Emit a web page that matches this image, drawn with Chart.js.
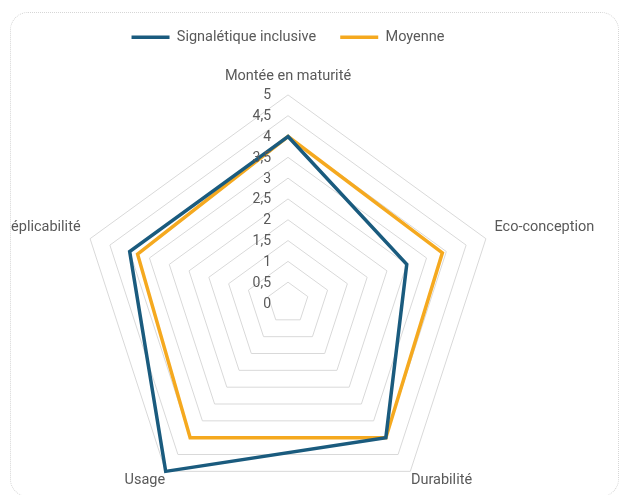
<!DOCTYPE html>
<html>
<head>
<meta charset="utf-8">
<script src="https://cdn.jsdelivr.net/npm/chart.js@4.4.1/dist/chart.umd.min.js"></script>
<style>
  html, body { margin: 0; padding: 0; background: #fff; overflow: hidden; }
  body { width: 619px; height: 495px; position: relative; }
  #frame {
    position: absolute; left: 10px; top: 12px; width: 609px; height: 485px;
    border: 1px dotted #d6d6d6; border-radius: 18px; box-sizing: border-box;
  }
  /* the source picture is cropped on the left, so the first letter of the left label is cut */
  #wrap { position: absolute; left: -100px; top: 0; width: 776px; height: 527px; clip-path: inset(0 0 0 111px); }
</style>
</head>
<body>
<div id="frame"></div>
<div id="wrap"><canvas id="c1"></canvas></div>
<script>
var categories = ['Montée en maturité', 'Eco-conception', 'Durabilité', 'Usage', 'Réplicabilité'];
var signaletique = [4, 3, 4, 5, 4];
var moyenne = [4, 3.9, 4, 4, 3.8];
var tickMin = 0, tickMax = 5, tickStep = 0.5;

// tick labels sit left of the vertical axis, like Excel does it
var leftTicks = {
    id: 'leftTicks',
    afterDatasetsDraw: function (chart) {
        var scale = chart.scales.r;
        var ctx = chart.ctx;
        ctx.save();
        ctx.font = '14px Roboto';
        ctx.fillStyle = '#595959';
        ctx.textAlign = 'right';
        ctx.textBaseline = 'middle';
        scale.ticks.forEach(function (t) {
            var y = scale.yCenter - scale.getDistanceFromCenterForValue(t.value);
            ctx.fillText(t.label, scale.xCenter - 17, y + 1);
        });
        ctx.restore();
    }
};

var ctx = document.getElementById('c1');
var myChart = new Chart(ctx, {
    type: 'radar',
    data: {
        labels: categories,
        datasets: [{
            label: 'Signalétique inclusive',
            data: signaletique,
            borderColor: '#1a5b7e',
            backgroundColor: '#1a5b7e',
            borderWidth: 3.5,
            pointRadius: 0,
            fill: false
        }, {
            label: 'Moyenne',
            data: moyenne,
            borderColor: '#f5a91f',
            backgroundColor: '#f5a91f',
            borderWidth: 3.5,
            pointRadius: 0,
            fill: false
        }]
    },
    options: {
        responsive: true,
        maintainAspectRatio: false,
        animation: false,
        layout: { padding: { top: 6, bottom: 0 } },
        plugins: {
            legend: {
                position: 'top',
                labels: {
                    usePointStyle: true,
                    pointStyle: 'line',
                    pointStyleWidth: 38,
                    padding: 24,
                    color: '#595959',
                    font: { family: 'Roboto', size: 14.5 }
                }
            },
            tooltip: { enabled: false }
        },
        scales: {
            r: {
                min: tickMin,
                max: tickMax,
                ticks: {
                    stepSize: tickStep,
                    display: false,
                    callback: function (v) { return v.toLocaleString('fr-FR'); }
                },
                grid: { color: '#d9d9d9', lineWidth: 1 },
                angleLines: { display: false },
                pointLabels: {
                    color: '#595959',
                    padding: function (c) {
                        if (c.index === 0) return 10;
                        if (c.index === 1) return 9;
                        if (c.index === 4) return 10;
                        return 1;
                    },
                    font: { family: 'Roboto', size: 14.5 }
                }
            }
        }
    },
    plugins: [leftTicks]
});
</script>
</body>
</html>
